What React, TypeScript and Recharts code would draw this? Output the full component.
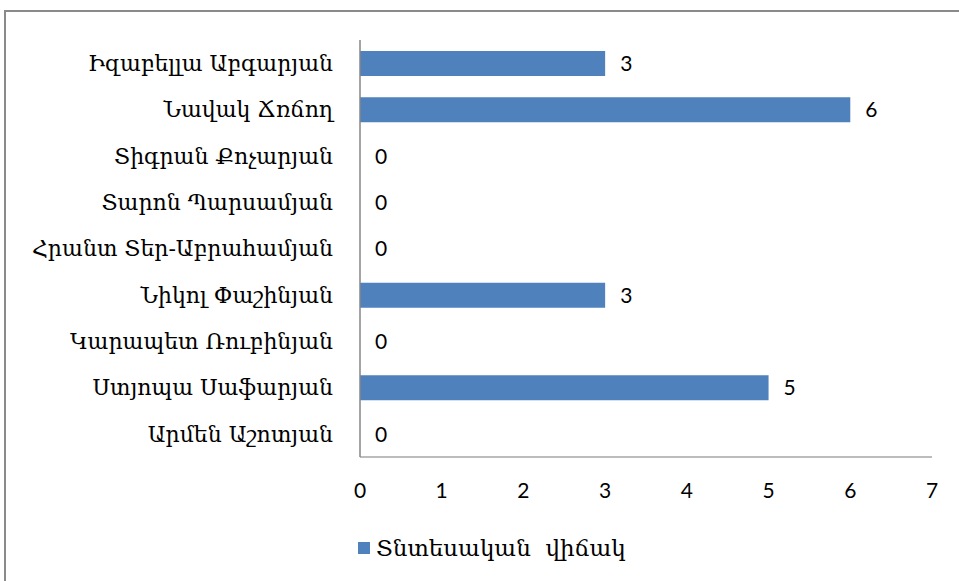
import { BarChart, Bar, XAxis, YAxis, LabelList } from 'recharts';

const names = [
  'Իզաբելլա Աբգարյան',
  'Նավակ Ճռճող',
  'Տիգրան Քոչարյան',
  'Տարոն Պարսամյան',
  'Հրանտ Տեր-Աբրահամյան',
  'Նիկոլ Փաշինյան',
  'Կարապետ Ռուբինյան',
  'Ստյոպա Սաֆարյան',
  'Արմեն Աշոտյան',
];
const scores = [3, 6, 0, 0, 0, 3, 0, 5, 0];
const xTicks = [0, 1, 2, 3, 4, 5, 6, 7];
const seriesName = 'Տնտեսական  վիճակ';

const BLUE = '#4f81bd';
const ARM = '"DejaVu Serif", serif';
const NUM = 'Lato, "Noto Sans", sans-serif';

const data = names.map((name, i) => ({ name, value: scores[i] }));

export default function App() {
  return (
    <div style={{ position: 'absolute', left: 0, top: 0, width: 959, height: 581, overflow: 'hidden', background: '#fff' }}>
      <div
        style={{
          position: 'absolute',
          left: 4,
          top: 10,
          width: 1000,
          height: 700,
          borderTop: '2px solid #8a8a8a',
          borderLeft: '2px solid #8a8a8a',
        }}
      />
      <div style={{ position: 'absolute', left: 0, top: 0 }}>
        <BarChart
          width={959}
          height={581}
          data={data}
          layout="vertical"
          margin={{ top: 40, right: 27, bottom: 64, left: 0 }}
          barCategoryGap={10}
        >
          <XAxis
            type="number"
            domain={[0, 7]}
            ticks={xTicks}
            interval={0}
            axisLine={{ stroke: '#a6a6a6', strokeWidth: 1.5 }}
            tickLine={false}
            tickSize={6}
            tickMargin={20}
            height={60}
            tick={{ fill: '#000', fontFamily: NUM, fontSize: 21 }}
          />
          <YAxis
            type="category"
            dataKey="name"
            width={360}
            axisLine={{ stroke: '#868686', strokeWidth: 1.5 }}
            tickLine={false}
            tickSize={6}
            tickMargin={21}
            interval={0}
            tick={{ fill: '#000', fontFamily: ARM, fontSize: 22 }}
          />
          <Bar dataKey="value" fill={BLUE} barSize={25} minPointSize={0.01} isAnimationActive={false}>
            <LabelList
              dataKey="value"
              position="right"
              offset={15}
              fill="#000"
              fontFamily={NUM}
              fontSize={21}
            />
          </Bar>
        </BarChart>
      </div>
      <div
        style={{
          position: 'absolute',
          left: 358,
          top: 535,
          display: 'flex',
          alignItems: 'center',
          fontFamily: ARM,
          fontSize: 23,
          color: '#000',
        }}
      >
        <span style={{ width: 12, height: 12, background: BLUE, display: 'inline-block', marginRight: 6 }} />
        <span style={{ whiteSpace: 'pre' }}>{seriesName}</span>
      </div>
    </div>
  );
}
